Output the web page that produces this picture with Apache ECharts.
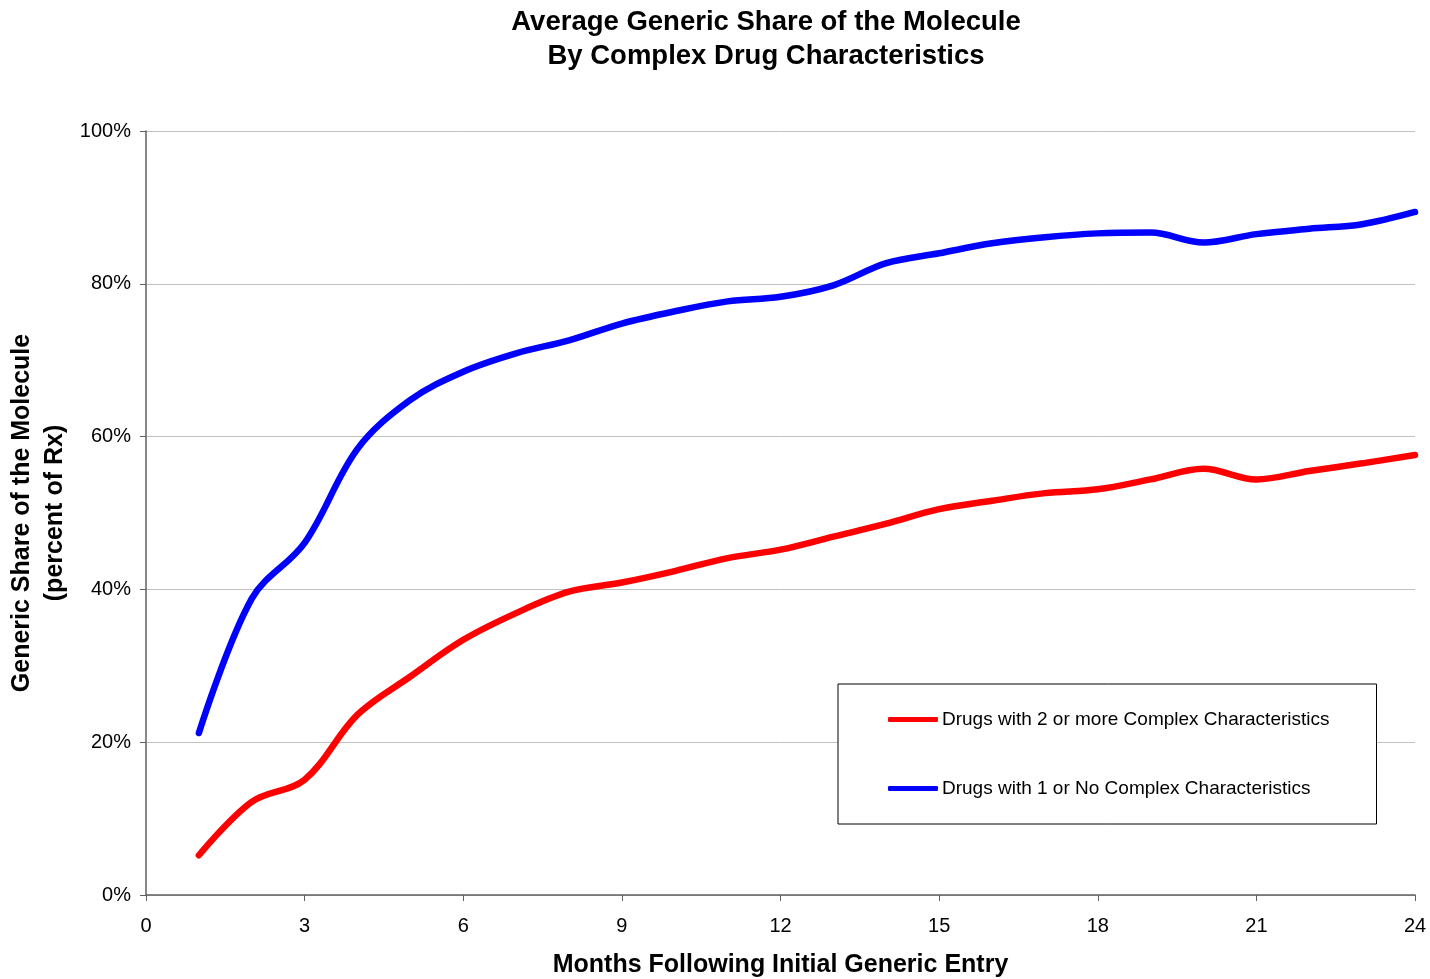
<!DOCTYPE html>
<html>
<head>
<meta charset="utf-8">
<script src="https://cdn.jsdelivr.net/npm/echarts@6/dist/echarts.min.js"></script>
<style>html,body{margin:0;padding:0;background:#fff;}#c{width:1430px;height:979px;}</style>
</head>
<body>
<div id="c"></div>
<script>
const months = [1,2,3,4,5,6,7,8,9,10,11,12,13,14,15,16,17,18,19,20,21,22,23,24];
const twoOrMore = [5.2,12.2,15.1,23.6,28.6,33.4,36.9,39.7,40.9,42.4,44.1,45.2,46.9,48.6,50.5,51.6,52.6,53.1,54.4,55.8,54.4,55.5,56.5,57.6];
const oneOrNone = [21.2,38.8,46.1,58.4,64.8,68.5,70.9,72.6,74.8,76.4,77.7,78.3,79.8,82.7,84.0,85.3,86.1,86.6,86.7,85.4,86.5,87.2,87.8,89.4];
const xTicks = [0,3,6,9,12,15,18,21,24];
const yTicks = ['0%','20%','40%','60%','80%','100%'];
const seriesNames = ['Drugs with 2 or more Complex Characteristics','Drugs with 1 or No Complex Characteristics'];

const font = '"Liberation Sans", Arial, sans-serif';
const chart = echarts.init(document.getElementById('c'));
chart.setOption({
  animation: false,
  backgroundColor: '#ffffff',
  title: {
    text: 'Average Generic Share of the Molecule\nBy Complex Drug Characteristics',
    left: 761, top: 0, textAlign: 'center',
    textStyle: {fontFamily: font, fontSize: 27.5, fontWeight: 'bold', color: '#000', lineHeight: 34}
  },
  grid: {left: 146, right: 15, top: 131, bottom: 84, outerBoundsMode: 'none', containLabel: false},
  legend: {
    orient: 'vertical', left: 838, top: 684,
    padding: [26, 47, 26, 50], itemGap: 50,
    borderColor: '#000', borderWidth: 1, backgroundColor: '#fff',
    itemWidth: 50, itemHeight: 5, icon: 'roundRect',
    textStyle: {fontFamily: font, fontSize: 19, color: '#000', padding: [0,0,0,-1]},
    data: seriesNames
  },
  xAxis: {
    type: 'value', min: 0, max: 24, interval: 3,
    name: 'Months Following Initial Generic Entry', nameLocation: 'middle', nameGap: 58, nameMoveOverlap: false,
    nameTextStyle: {fontFamily: font, fontSize: 25, fontWeight: 'bold', color: '#000'},
    axisLine: {lineStyle: {color: '#606060', width: 1.5}},
    axisTick: {show: true, length: 6, lineStyle: {color: '#606060'}},
    axisLabel: {fontFamily: font, fontSize: 20, color: '#000', margin: 21,
      formatter: v => xTicks.indexOf(v) >= 0 ? String(v) : ''},
    splitLine: {show: false}
  },
  yAxis: {
    type: 'value', min: 0, max: 100, interval: 20,
    name: 'Generic Share of the Molecule\n(percent of Rx)', nameLocation: 'middle', nameGap: 74, nameRotate: 90, nameMoveOverlap: false,
    nameTextStyle: {fontFamily: font, fontSize: 25, fontWeight: 'bold', color: '#000', lineHeight: 33},
    axisLine: {show: true, lineStyle: {color: '#606060', width: 1.5}},
    axisTick: {show: true, length: 6, lineStyle: {color: '#606060'}},
    axisLabel: {fontFamily: font, fontSize: 20, color: '#000', margin: 15,
      formatter: v => yTicks[v / 20]},
    splitLine: {show: true, lineStyle: {color: '#c0c0c0', width: 1}}
  },
  series: [
    {name: seriesNames[0], type: 'line', smooth: 0.35, showSymbol: false,
     data: months.map((m, i) => [m, twoOrMore[i]]),
     lineStyle: {color: '#ff0000', width: 6.5, cap: 'round'}, itemStyle: {color: '#ff0000'}},
    {name: seriesNames[1], type: 'line', smooth: 0.35, showSymbol: false,
     data: months.map((m, i) => [m, oneOrNone[i]]),
     lineStyle: {color: '#0000ff', width: 6.5, cap: 'round'}, itemStyle: {color: '#0000ff'}}
  ]
});
</script>
</body>
</html>
